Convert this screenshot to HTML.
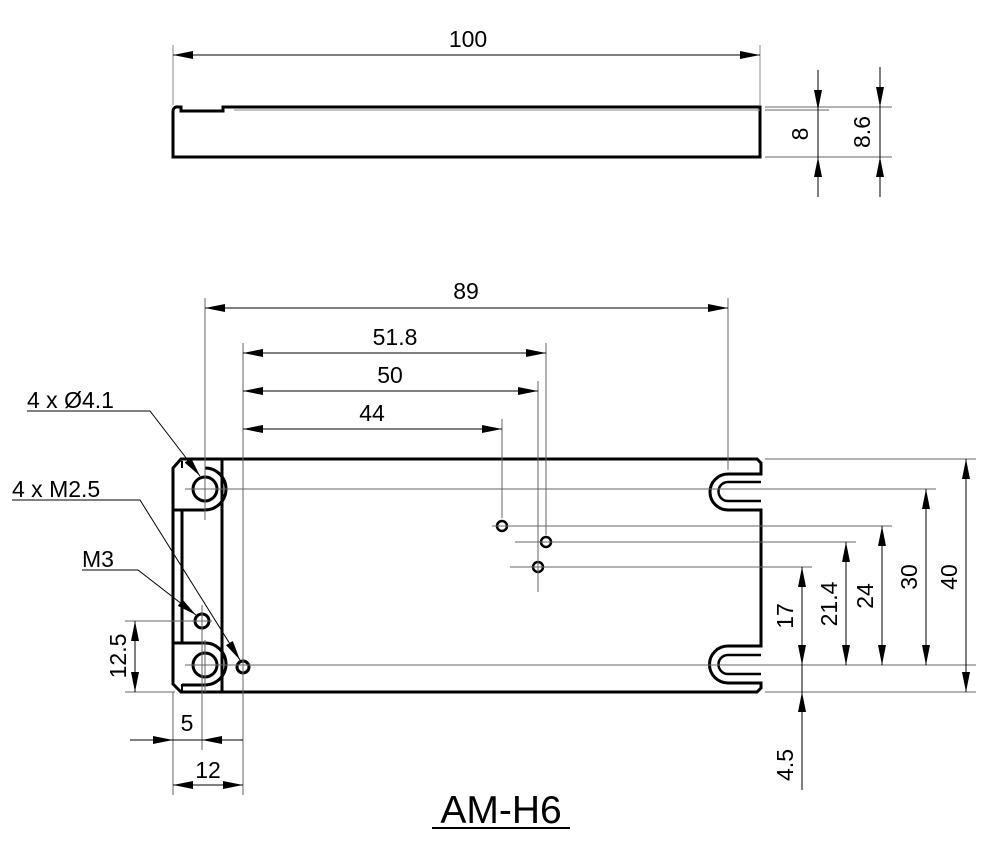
<!DOCTYPE html>
<html><head><style>body{margin:0;background:#fff}svg{display:block}text{font-family:"Liberation Sans",sans-serif;fill:#000}</style></head>
<body>
<svg width="1000" height="859" viewBox="0 0 1000 859" xmlns="http://www.w3.org/2000/svg">
<defs>
<marker id="a" viewBox="0 0 20 8" refX="20" refY="4" markerWidth="20" markerHeight="8" markerUnits="userSpaceOnUse" orient="auto-start-reverse"><path d="M0,0 L20,4 L0,8z" fill="#000"/></marker>
</defs>
<g stroke="#000" fill="none" stroke-width="1">
<path d="M173,157 L173,112 Q173,106 179,107 L181,107 L181,111 L223,111 L223,107 L760,107 L760,157 Z" stroke-width="3"/>
<line x1="234" y1="110" x2="760" y2="110" stroke="#888"/>
<line x1="173" y1="45" x2="173" y2="105" stroke="#888"/>
<line x1="760" y1="45" x2="760" y2="105" stroke="#888"/>
<line x1="173" y1="55" x2="760" y2="55" marker-start="url(#a)" marker-end="url(#a)"/>
<line x1="765" y1="110" x2="829" y2="110" stroke="#666"/>
<line x1="765" y1="107" x2="892" y2="107" stroke="#666"/>
<line x1="765" y1="157" x2="892" y2="157" stroke="#666"/>
<line x1="818" y1="70" x2="818" y2="110" marker-end="url(#a)"/>
<line x1="818" y1="197" x2="818" y2="157" marker-end="url(#a)"/>
<line x1="818" y1="110" x2="818" y2="157"/>
<line x1="880" y1="67" x2="880" y2="107" marker-end="url(#a)"/>
<line x1="880" y1="197" x2="880" y2="157" marker-end="url(#a)"/>
<line x1="880" y1="107" x2="880" y2="157"/>

<path d="M173,468 L181,459 L757,459 L761,463 L761,474 L728,474 A18,18 0 0 0 728,510 L761,510 L761,646 L728,646 A18,18 0 0 0 728,683 L761,683 L761,688 L757,692 L181,692 L173,684 Z" stroke-width="3"/>
<path d="M761,482 L728,482 A9.5,9.5 0 0 0 728,501 L761,501" stroke-width="2.5"/>
<path d="M761,655 L728,655 A9.5,9.5 0 0 0 728,674 L761,674" stroke-width="2.5"/>
<line x1="222" y1="459" x2="222" y2="692" stroke-width="3"/>
<line x1="182" y1="510" x2="182" y2="643" stroke-width="3"/>
<line x1="182" y1="461" x2="182" y2="468" stroke-width="2"/>
<line x1="182" y1="684" x2="182" y2="692" stroke-width="2"/>
<path d="M173,510 L205,510 A21,21 0 0 0 205,468" stroke-width="3"/>
<path d="M173,643 L205,643 A21,21 0 0 1 205,685 L182,685" stroke-width="3"/>
<circle cx="205" cy="489" r="12" stroke-width="3"/>
<circle cx="205" cy="665" r="12" stroke-width="3"/>
<circle cx="202" cy="621" r="7" stroke-width="3"/>
<circle cx="243" cy="667" r="6" stroke-width="3"/>
<circle cx="502" cy="526" r="5" stroke-width="2.5"/>
<circle cx="546" cy="542" r="5" stroke-width="2.5"/>
<circle cx="538" cy="567" r="5" stroke-width="2.5"/>
<g stroke="#666">
<line x1="185" y1="489" x2="936" y2="489"/>
<line x1="205" y1="298" x2="205" y2="520"/>
<line x1="205" y1="640" x2="205" y2="692"/>
<line x1="185" y1="665" x2="976" y2="665"/>
<line x1="202" y1="605" x2="202" y2="750"/>
<line x1="125" y1="621" x2="212" y2="621"/>
<line x1="125" y1="692" x2="175" y2="692"/>
<line x1="243" y1="343" x2="243" y2="795"/>
<line x1="173" y1="692" x2="173" y2="795"/>
<line x1="546" y1="343" x2="546" y2="535"/>
<line x1="538" y1="381" x2="538" y2="592"/>
<line x1="502" y1="419" x2="502" y2="518"/>
<line x1="492" y1="526" x2="892" y2="526"/>
<line x1="515" y1="542" x2="856" y2="542"/>
<line x1="510" y1="567" x2="812" y2="567"/>
<line x1="728" y1="298" x2="728" y2="470"/>
<line x1="765" y1="459" x2="976" y2="459"/>
<line x1="765" y1="692" x2="976" y2="692"/>
</g>
<line x1="205" y1="308" x2="728" y2="308" marker-start="url(#a)" marker-end="url(#a)"/>
<line x1="243" y1="353" x2="546" y2="353" marker-start="url(#a)" marker-end="url(#a)"/>
<line x1="243" y1="391" x2="538" y2="391" marker-start="url(#a)" marker-end="url(#a)"/>
<line x1="243" y1="429" x2="502" y2="429" marker-start="url(#a)" marker-end="url(#a)"/>
<line x1="130" y1="740" x2="173" y2="740" marker-end="url(#a)"/>
<line x1="243" y1="740" x2="202" y2="740" marker-end="url(#a)"/>
<line x1="173" y1="740" x2="202" y2="740"/>
<line x1="173" y1="785" x2="243" y2="785" marker-start="url(#a)" marker-end="url(#a)"/>
<line x1="966" y1="459" x2="966" y2="692" marker-start="url(#a)" marker-end="url(#a)"/>
<line x1="926" y1="489" x2="926" y2="665" marker-start="url(#a)" marker-end="url(#a)"/>
<line x1="882" y1="526" x2="882" y2="665" marker-start="url(#a)" marker-end="url(#a)"/>
<line x1="846" y1="542" x2="846" y2="665" marker-start="url(#a)" marker-end="url(#a)"/>
<line x1="802" y1="567" x2="802" y2="665" marker-start="url(#a)" marker-end="url(#a)"/>
<line x1="802" y1="790" x2="802" y2="692" marker-end="url(#a)"/>
<line x1="802" y1="692" x2="802" y2="665"/>
<line x1="135" y1="621" x2="135" y2="692" marker-start="url(#a)" marker-end="url(#a)"/>
<path d="M27,411 L150,411 L200,476" marker-end="url(#a)"/>
<path d="M12,500 L140,500 L240,660" marker-end="url(#a)"/>
<path d="M82,570 L138,570 L196,615" marker-end="url(#a)"/>
</g>
<g font-size="23">
<text x="468" y="47" text-anchor="middle">100</text>
<text transform="translate(808,134) rotate(-90)" text-anchor="middle">8</text>
<text transform="translate(870,132) rotate(-90)" text-anchor="middle">8.6</text>
<text x="466" y="299" text-anchor="middle">89</text>
<text x="395" y="345" text-anchor="middle">51.8</text>
<text x="390" y="383" text-anchor="middle">50</text>
<text x="372" y="421" text-anchor="middle">44</text>
<text x="27" y="408">4 x Ø4.1</text>
<text x="12" y="497">4 x M2.5</text>
<text x="82" y="567">M3</text>
<text transform="translate(126,656) rotate(-90)" text-anchor="middle">12.5</text>
<text x="187" y="731" text-anchor="middle">5</text>
<text x="208" y="778" text-anchor="middle">12</text>
<text transform="translate(957,577) rotate(-90)" text-anchor="middle">40</text>
<text transform="translate(917,577) rotate(-90)" text-anchor="middle">30</text>
<text transform="translate(873,596) rotate(-90)" text-anchor="middle">24</text>
<text transform="translate(837,604) rotate(-90)" text-anchor="middle">21.4</text>
<text transform="translate(793,616) rotate(-90)" text-anchor="middle">17</text>
<text transform="translate(793,765) rotate(-90)" text-anchor="middle">4.5</text>
</g>
<text x="501" y="823" font-size="39" text-anchor="middle">AM-H6</text>
<line x1="432" y1="828" x2="570" y2="828" stroke="#000" stroke-width="2"/>
</svg>
</body></html>
